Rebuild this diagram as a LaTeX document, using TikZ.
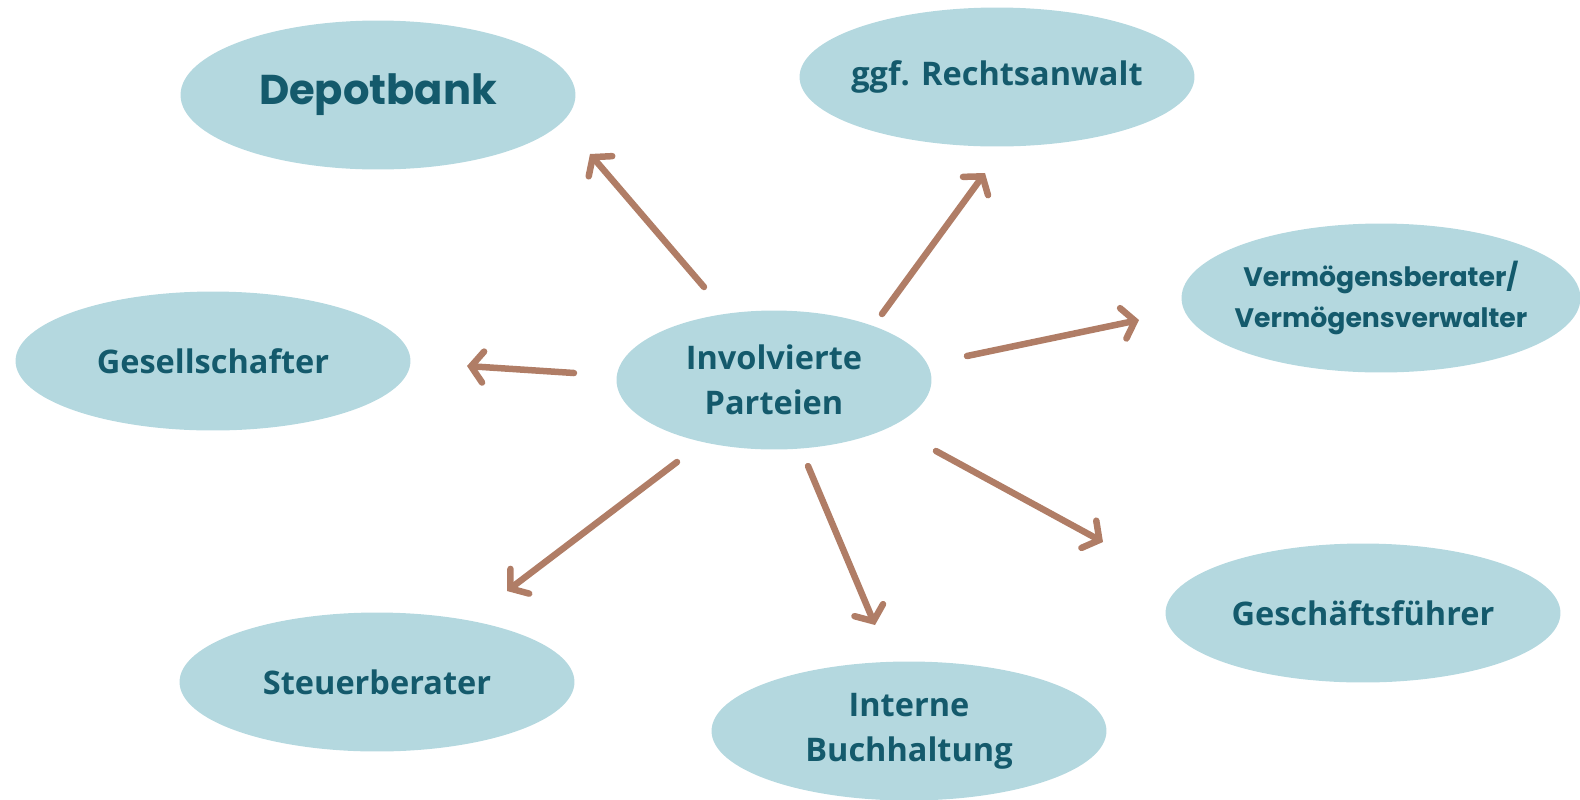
\documentclass[tikz,border=0pt]{standalone}
\usepackage{fontspec}
\setmainfont{Open Sans}
\newfontfamily\popfont{Poppins}
\usetikzlibrary{shapes.geometric,arrows.meta,calc}

\definecolor{blobfill}{RGB}{180,216,223}
\definecolor{blobtext}{RGB}{20,90,108}
\definecolor{arrowbrown}{RGB}{176,125,102}

\begin{document}
\begin{tikzpicture}[x=0.02cm,y=-0.02cm,
        blob/.style={ellipse, fill=blobfill, inner sep=0pt, inner xsep=-4mm,
            align=center, text=blobtext, minimum width=7.9cm, minimum height=2.78cm,
            font=\bfseries\fontsize{18.5}{25.5}\selectfont},
        arr/.style={draw=arrowbrown, line width=3.7pt, line cap=round,
            -{Straight Barb[length=2.4mm,width=6.2mm,line cap=round]}}]
        \useasboundingbox (0,0) rectangle (1580,799);
        \node[blob, minimum height=2.98cm, font=\popfont\bfseries\fontsize{23.7}{28}\selectfont] (dep) at (378,95) {Depotbank};
        \node[blob] (rec) at (997,77) {ggf. Rechtsanwalt};
        \node[blob, minimum width=7.98cm, minimum height=2.98cm,
            font=\popfont\bfseries\fontsize{15.2}{23.5}\selectfont] (ver) at (1381,298) {Vermögensberater/\\Vermögensverwalter};
        \node[blob] (ges) at (213,361) {Gesellschafter};
        \node[blob, minimum width=6.3cm] (inv) at (774,380) {Involvierte\\Parteien};
        \node[blob] (gef) at (1363,613) {Geschäftsführer};
        \node[blob] (st) at (377,682) {Steuerberater};
        \node[blob] (buch) at (909,731) {Interne\\Buchhaltung};

        \draw[arr] ($(inv)+(-70,-93)$) -- ($(dep)+(212,59)$);
        \draw[arr] ($(inv)+(108,-66)$) -- ($(rec)+(-12,96)$);
        \draw[arr] ($(inv)+(193,-24)$) -- ($(ver)+(-242,22)$);
        \draw[arr] ($(inv)+(-200,-7)$) -- ($(ges)+(254,5)$);
        \draw[arr] ($(inv)+(162,71)$) -- ($(gef)+(-260,-71)$);
        \draw[arr] ($(inv)+(34,86)$) -- ($(buch)+(-34,-106)$);
        \draw[arr] ($(inv)+(-97,82)$) -- ($(st)+(130,-91)$);
    \end{tikzpicture}
\end{document}
